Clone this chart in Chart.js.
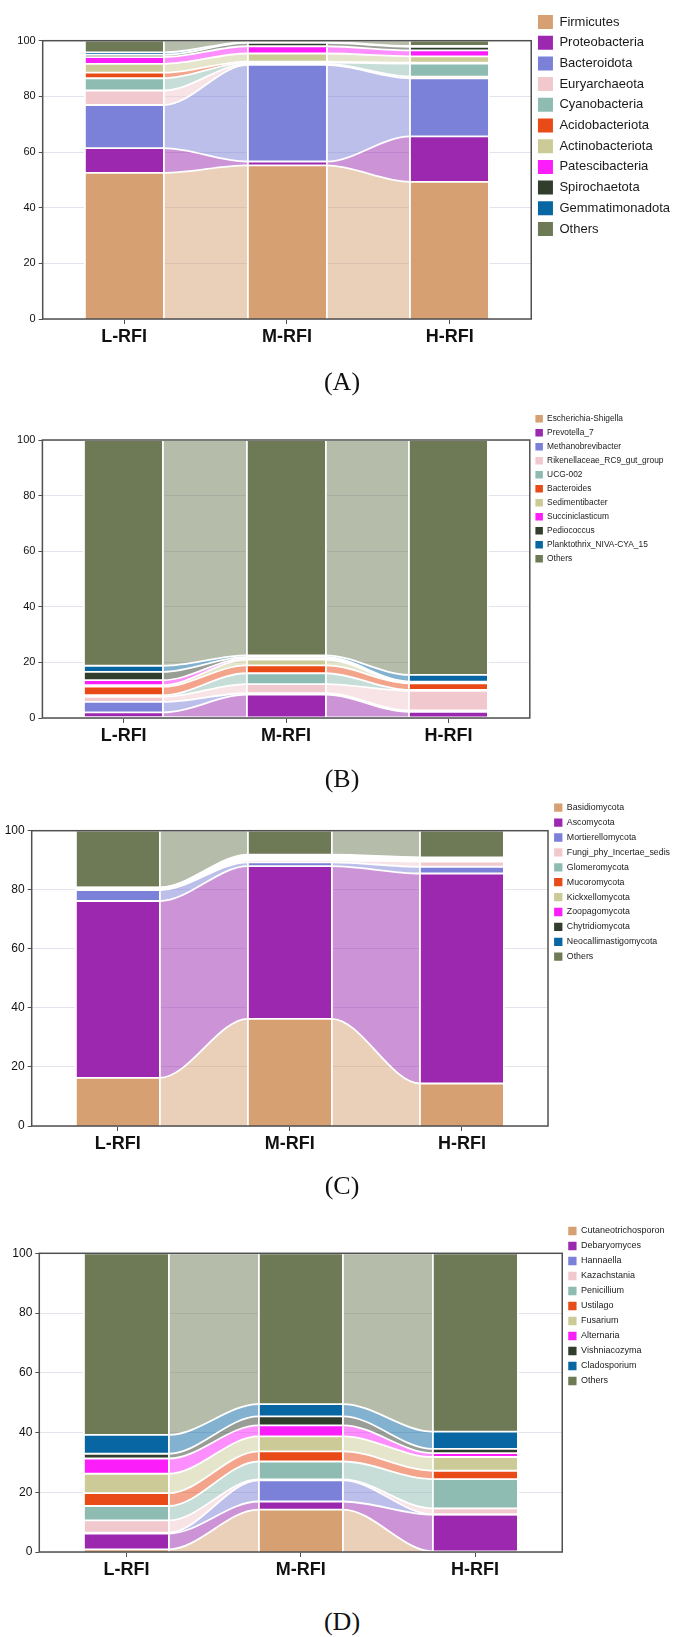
<!DOCTYPE html>
<html>
<head>
<meta charset="utf-8">
<script src="https://cdn.jsdelivr.net/npm/chart.js@4.4.1/dist/chart.umd.min.js"></script>
<style>
    body { margin: 0; background: #fff; }
    #page { position: relative; width: 680px; height: 1637px; overflow: hidden; }
    canvas { position: absolute; left: 0; }
    .cap { position: absolute; left: 292px; width: 100px; text-align: center; font: 26px "Liberation Serif", "Times New Roman", serif; line-height: 26px; color: #111; }
</style>
</head>
<body>
<div id="page">
    <canvas id="chartA" width="680" height="359" style="top:0px"></canvas>
    <canvas id="chartB" width="680" height="368" style="top:390px"></canvas>
    <canvas id="chartC" width="680" height="376" style="top:790px"></canvas>
    <canvas id="chartD" width="680" height="402" style="top:1190px"></canvas>
    <div class="cap" style="top:369px">(A)</div>
    <div class="cap" style="top:766px">(B)</div>
    <div class="cap" style="top:1173px">(C)</div>
    <div class="cap" style="top:1609px">(D)</div>
</div>
<script>
const groups = ['L-RFI', 'M-RFI', 'H-RFI'];
const yTicks = [0, 20, 40, 60, 80, 100];

// (A) bacteria, phylum level
const taxaA = ['Firmicutes', 'Proteobacteria', 'Bacteroidota', 'Euryarchaeota', 'Cyanobacteria', 'Acidobacteriota',
    'Actinobacteriota', 'Patescibacteria', 'Spirochaetota', 'Gemmatimonadota', 'Others'];
const valuesA = [
    [52.5, 55.2, 49.3],
    [8.9, 1.4, 16.3],
    [15.5, 34.7, 20.9],
    [5.2, 0.4, 0.6],
    [4.4, 0.4, 4.7],
    [2.0, 0.4, 0.3],
    [3.2, 2.9, 2.3],
    [2.4, 2.6, 2.1],
    [0.8, 1.2, 1.3],
    [0.9, 0.3, 0.3],
    [4.2, 0.5, 1.9]
];

// (B) bacteria, genus level
const taxaB = ['Escherichia-Shigella', 'Prevotella_7', 'Methanobrevibacter', 'Rikenellaceae_RC9_gut_group', 'UCG-002',
    'Bacteroides', 'Sedimentibacter', 'Succiniclasticum', 'Pediococcus', 'Planktothrix_NIVA-CYA_15', 'Others'];
const valuesB = [
    [0.3, 0.2, 0.2],
    [1.7, 8.2, 2.0],
    [3.8, 0.5, 0.5],
    [1.8, 3.3, 7.1],
    [0.6, 3.9, 0.3],
    [3.1, 2.8, 2.4],
    [0.5, 2.1, 0.2],
    [1.8, 0.5, 0.2],
    [3.0, 0.5, 0.2],
    [2.2, 0.5, 2.4],
    [81.2, 77.5, 84.5]
];

// (C) fungi, phylum level
const taxaC = ['Basidiomycota', 'Ascomycota', 'Mortierellomycota', 'Fungi_phy_Incertae_sedis', 'Glomeromycota',
    'Mucoromycota', 'Kickxellomycota', 'Zoopagomycota', 'Chytridiomycota', 'Neocallimastigomycota', 'Others'];
const valuesC = [
    [16.3, 36.3, 14.4],
    [59.9, 51.7, 71.1],
    [3.7, 1.3, 2.3],
    [0.2, 0.7, 1.7],
    [0.2, 0.4, 0.3],
    [0.1, 0.3, 0.3],
    [0.1, 0.3, 0.3],
    [0.1, 0.3, 0.2],
    [0.1, 0.3, 0.2],
    [0.1, 0.3, 0.2],
    [19.2, 8.1, 9.0]
];

// (D) fungi, genus level
const taxaD = ['Cutaneotrichosporon', 'Debaryomyces', 'Hannaella', 'Kazachstania', 'Penicillium', 'Ustilago',
    'Fusarium', 'Alternaria', 'Vishniacozyma', 'Cladosporium', 'Others'];
const valuesD = [
    [0.9, 14.2, 0.2],
    [5.3, 2.7, 12.3],
    [0.3, 7.1, 0.1],
    [4.1, 0.3, 2.0],
    [4.8, 6.0, 9.8],
    [4.3, 3.4, 2.8],
    [6.5, 5.0, 4.6],
    [5.1, 3.7, 1.3],
    [1.6, 3.0, 1.4],
    [6.3, 4.1, 5.8],
    [60.8, 50.5, 59.7]
];

const palette = ['#d6a073', '#9c28b0', '#7b80d8', '#f2c8cf', '#8fbcb2', '#e84a18',
    '#cccb97', '#fb1efb', '#323e2d', '#0866a3', '#6e7a56'];

const font = '"Liberation Sans", Arial, sans-serif';
Chart.defaults.font.family = font;

// bars are half a band wide, flows fill the gaps
const halfBar = 0.243;
const edges = [];
groups.forEach((g, i) => edges.push(i + 0.5 - halfBar, i + 0.5 + halfBar));

const fade = (hex, a) => {
    const n = parseInt(hex.slice(1), 16);
    return `rgba(${n >> 16}, ${(n >> 8) & 255}, ${n & 255}, ${a})`;
};

// draw the box round the plot
const frame = {
    id: 'frame',
    afterDraw(chart) {
        const { ctx, chartArea: a } = chart;
        ctx.save();
        ctx.strokeStyle = '#505050';
        ctx.lineWidth = 1.5;
        ctx.strokeRect(a.left, a.top, a.right - a.left, a.bottom - a.top);
        ctx.restore();
    }
};

const panels = [
    { id: 'chartA', taxa: taxaA, values: valuesA, axisW: 42.7, topGap: 32.4, legendTop: 8.3, padRight: 0,
        tick: 11, legendFont: 13, box: [15, 14], legendPad: 6.7 },
    { id: 'chartB', taxa: taxaB, values: valuesB, axisW: 42.4, topGap: 31.1, legendTop: 18.9, padRight: 6.5,
        tick: 11, legendFont: 8.4, box: [7.5, 7.5], legendPad: 5.6 },
    { id: 'chartC', taxa: taxaC, values: valuesC, axisW: 31.7, topGap: 33.5, legendTop: 7.2, padRight: 0,
        tick: 12, legendFont: 8.8, box: [8.3, 8.3], legendPad: 6.1 },
    { id: 'chartD', taxa: taxaD, values: valuesD, axisW: 39.3, topGap: 32.8, legendTop: 30.5, padRight: 5.4,
        tick: 12, legendFont: 9, box: [8.3, 8.3], legendPad: 6 }
];

panels.forEach(p => {
    const datasets = p.values.map((row, k) => ({
        label: p.taxa[k],
        xAxisID: 'x',
        data: edges.map((x, j) => ({ x, y: row[Math.floor(j / 2)] })),
        backgroundColor: palette[k],
        borderColor: '#ffffff',
        borderWidth: 1.8,
        fill: k === 0 ? 'origin' : '-1',
        cubicInterpolationMode: 'monotone',
        pointRadius: 0,
        pointHitRadius: 0,
        segment: {
            // odd segments are the flows between two bars
            backgroundColor: ctx => ctx.p0DataIndex % 2 === 1 ? fade(palette[k], 0.5) : palette[k]
        }
    }));

    new Chart(document.getElementById(p.id), {
        type: 'line',
        data: { datasets },
        options: {
            responsive: false,
            animation: false,
            events: [],
            layout: { padding: { top: p.legendTop, right: p.padRight, bottom: 0, left: 0 } },
            plugins: {
                filler: { drawTime: 'beforeDatasetsDraw' },
                tooltip: { enabled: false },
                legend: {
                    position: 'right',
                    align: 'start',
                    labels: {
                        boxWidth: p.box[0],
                        boxHeight: p.box[1],
                        padding: p.legendPad,
                        color: '#1a1a1a',
                        font: { size: p.legendFont, family: font },
                        generateLabels: chart => Chart.defaults.plugins.legend.labels.generateLabels(chart)
                            .map(item => ({ ...item, lineWidth: 0 }))
                    }
                }
            },
            scales: {
                x: {
                    type: 'linear',
                    position: 'top',
                    min: 0,
                    max: groups.length,
                    afterBuildTicks: s => { s.ticks = edges.map(v => ({ value: v })); },
                    afterFit: s => { s.height = p.topGap; },
                    ticks: { display: false },
                    grid: { color: '#ffffff', lineWidth: 1.8, drawTicks: false, z: 1 },
                    border: { display: false }
                },
                xc: {
                    type: 'category',
                    labels: groups,
                    offset: true,
                    position: 'bottom',
                    afterFit: s => { s.height = 40; },
                    grid: { drawOnChartArea: false, tickLength: 5, tickColor: '#505050' },
                    border: { display: false },
                    ticks: { color: '#111', padding: 2, font: { size: 18, weight: 'bold', family: font } }
                },
                y: {
                    stacked: true,
                    min: 0,
                    max: 100,
                    afterBuildTicks: s => { s.ticks = yTicks.map(v => ({ value: v })); },
                    afterFit: s => { s.width = p.axisW; },
                    ticks: { color: '#111', padding: 3, font: { size: p.tick, family: font } },
                    grid: { color: '#e3e3ee', tickColor: '#505050', tickLength: 4 },
                    border: { display: false }
                }
            }
        },
        plugins: [frame]
    });
});
</script>
</body>
</html>
